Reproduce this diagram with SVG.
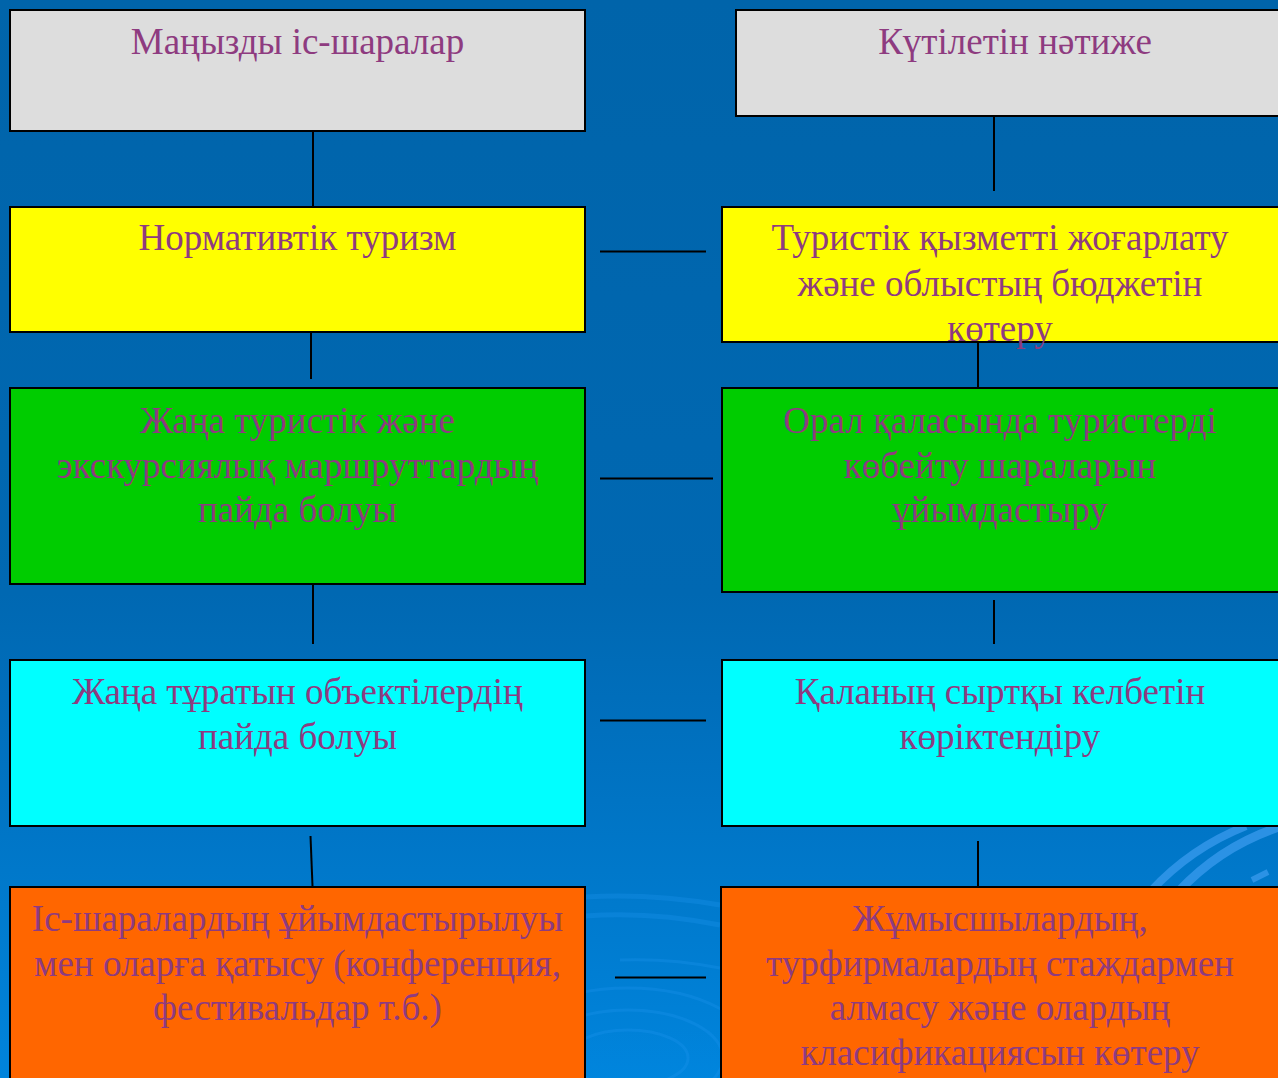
<svg xmlns="http://www.w3.org/2000/svg" width="1278" height="1078" viewBox="0 0 1278 1078">
  <defs>
    <linearGradient id="bg" x1="0" y1="0" x2="0" y2="1">
      <stop offset="0" stop-color="#0064AA"/>
      <stop offset="0.55" stop-color="#0068B2"/>
      <stop offset="1" stop-color="#0084DC"/>
    </linearGradient>
    <radialGradient id="glow" cx="0.5" cy="1" r="0.6">
      <stop offset="0" stop-color="#008CE6" stop-opacity="0.8"/>
      <stop offset="1" stop-color="#008CE6" stop-opacity="0"/>
    </radialGradient>
  </defs>
  <style>
    .box { stroke: #000000; stroke-width: 2; }
    .gray { fill: #DDDDDD; }
    .yellow { fill: #FFFF00; }
    .green { fill: #00CC00; }
    .cyan { fill: #00FFFF; }
    .orange { fill: #FF6600; }
    .lbl { font-family: "Liberation Serif", "Times New Roman", serif; font-size: 37px; fill: #8E3B80; text-anchor: middle; }
    .conn line { stroke: #000000; stroke-width: 2; }
    .swirl { fill: none; stroke: #3A9BEE; stroke-opacity: 0.75; }
    .faint { fill: none; stroke: #1E96EE; stroke-opacity: 0.3; }
  </style>

  <rect x="0" y="0" width="1278" height="1078" fill="url(#bg)"/>
  <ellipse cx="640" cy="1078" rx="700" ry="260" fill="url(#glow)"/>

  <!-- background swirls -->
  <g id="swirls">
    <path class="swirl" stroke-width="8" d="M1150,892 A259,259 0 0 1 1246,826"/>
    <path class="swirl" stroke-width="9" d="M1178,892 A242,242 0 0 1 1282,826"/>
    <path class="swirl" stroke-width="6" d="M1252,880 L1268,872"/>
    <path class="faint" stroke-width="5" d="M585,897 Q650,893 720,905"/>
    <path class="faint" stroke-width="5" d="M585,916 Q650,911 720,925"/>
    <path class="faint" stroke-width="3" d="M620,960 Q670,958 720,968"/>
    <ellipse class="faint" stroke-width="3" cx="628" cy="1058" rx="60" ry="28"/>
    <ellipse class="faint" stroke-width="3" cx="628" cy="1058" rx="95" ry="48"/>
    <ellipse class="faint" stroke-width="3" cx="628" cy="1058" rx="130" ry="70"/>
  </g>

  <!-- connectors -->
  <g id="connectors" class="conn">
    <line x1="313" y1="131" x2="313" y2="206"/>
    <line x1="311" y1="333" x2="311" y2="379"/>
    <line x1="313" y1="585" x2="313" y2="644"/>
    <line x1="310.5" y1="836" x2="312.5" y2="886"/>
    <line x1="994" y1="116" x2="994" y2="191"/>
    <line x1="978" y1="343" x2="978" y2="388"/>
    <line x1="994" y1="600" x2="994" y2="644"/>
    <line x1="978" y1="841" x2="978" y2="887"/>
    <line x1="600" y1="251.5" x2="706" y2="251.5"/>
    <line x1="600" y1="478.5" x2="713" y2="478.5"/>
    <line x1="600" y1="720.5" x2="706" y2="720.5"/>
    <line x1="615" y1="977.5" x2="706" y2="977.5"/>
  </g>

  <!-- left column -->
  <g id="l1">
    <rect class="box gray" x="10" y="10" width="575" height="121"/>
    <text class="lbl" x="297.5" y="54">Маңызды іс-шаралар</text>
  </g>
  <g id="l2">
    <rect class="box yellow" x="10" y="207" width="575" height="125"/>
    <text class="lbl" x="297.5" y="250">Нормативтік туризм</text>
  </g>
  <g id="l3">
    <rect class="box green" x="10" y="388" width="575" height="196"/>
    <text class="lbl" x="297.5" y="433">Жаңа туристік және</text>
    <text class="lbl" x="297.5" y="478">экскурсиялық маршруттардың</text>
    <text class="lbl" x="297.5" y="522">пайда болуы</text>
  </g>
  <g id="l4">
    <rect class="box cyan" x="10" y="660" width="575" height="166"/>
    <text class="lbl" x="297.5" y="704">Жаңа тұратын объектілердің</text>
    <text class="lbl" x="297.5" y="749">пайда болуы</text>
  </g>
  <g id="l5">
    <rect class="box orange" x="10" y="887" width="575" height="200"/>
    <text class="lbl" x="297.5" y="931">Іс-шаралардың ұйымдастырылуы</text>
    <text class="lbl" x="297.5" y="976">мен оларға қатысу (конференция,</text>
    <text class="lbl" x="297.5" y="1020">фестивальдар т.б.)</text>
  </g>

  <!-- right column -->
  <g id="r1">
    <rect class="box gray" x="736" y="10" width="560" height="106"/>
    <text class="lbl" x="1015" y="54">Күтілетін нәтиже</text>
  </g>
  <g id="r2">
    <rect class="box yellow" x="722" y="207" width="574" height="135"/>
    <text class="lbl" x="1000" y="250">Туристік қызметті жоғарлату</text>
    <text class="lbl" x="1000" y="296">және облыстың бюджетін</text>
    <text class="lbl" x="1000" y="341">көтеру</text>
  </g>
  <g id="r3">
    <rect class="box green" x="722" y="388" width="574" height="204"/>
    <text class="lbl" x="1000" y="433">Орал қаласында туристерді</text>
    <text class="lbl" x="1000" y="478">көбейту шараларын</text>
    <text class="lbl" x="1000" y="522">ұйымдастыру</text>
  </g>
  <g id="r4">
    <rect class="box cyan" x="722" y="660" width="574" height="166"/>
    <text class="lbl" x="1000" y="704">Қаланың сыртқы келбетін</text>
    <text class="lbl" x="1000" y="749">көріктендіру</text>
  </g>
  <g id="r5">
    <rect class="box orange" x="721" y="887" width="575" height="200"/>
    <text class="lbl" x="1000" y="931">Жұмысшылардың,</text>
    <text class="lbl" x="1000" y="976">турфирмалардың стаждармен</text>
    <text class="lbl" x="1000" y="1020">алмасу және олардың</text>
    <text class="lbl" x="1000" y="1065">класификациясын көтеру</text>
  </g>
</svg>
